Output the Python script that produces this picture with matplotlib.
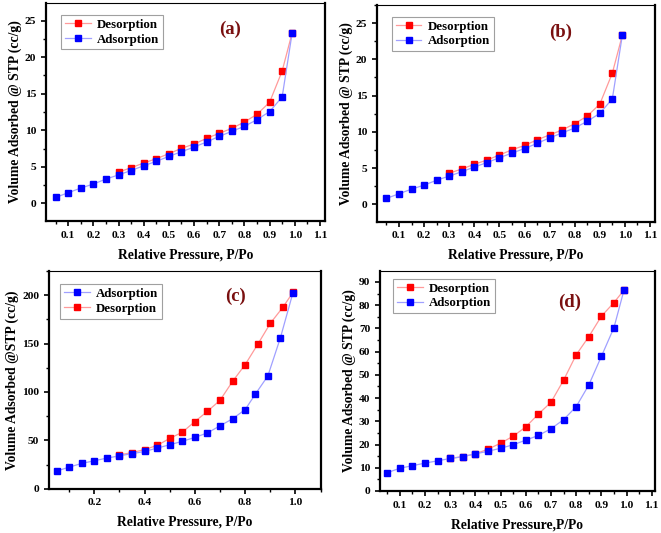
import numpy as np
import matplotlib
matplotlib.use("Agg")
import matplotlib.pyplot as plt
from matplotlib.ticker import MultipleLocator

plt.rcParams["font.family"] = ["Liberation Serif", "DejaVu Serif"]
plt.rcParams["font.weight"] = "bold"

# panels (a) and (b): same isotherm
p_ads_ab = [0.05, 0.10, 0.15, 0.20, 0.25, 0.30, 0.35, 0.40, 0.45, 0.50,
            0.55, 0.60, 0.65, 0.70, 0.75, 0.80, 0.85, 0.90, 0.95, 0.99]
v_ads_ab = [0.82, 1.46, 2.1, 2.65, 3.33, 3.9, 4.5, 5.15, 5.75, 6.43,
            7.07, 7.7, 8.4, 9.17, 9.85, 10.54, 11.45, 12.55, 14.55, 23.36]
p_des_ab = [0.30, 0.35, 0.40, 0.45, 0.50, 0.55, 0.60, 0.65, 0.70, 0.75,
            0.80, 0.85, 0.90, 0.95, 0.99]
v_des_ab = [4.29, 4.88, 5.52, 6.11, 6.8, 7.53, 8.12, 8.9, 9.58, 10.26,
            11.13, 12.18, 13.82, 18.1, 23.36]

# panel (c)
p_ads_c = [0.05, 0.10, 0.15, 0.20, 0.25, 0.30, 0.35, 0.40, 0.45, 0.50,
           0.55, 0.60, 0.65, 0.70, 0.75, 0.80, 0.84, 0.89, 0.94, 0.99]
v_ads_c = [18.2, 22.3, 26.1, 28.9, 31.6, 34.0, 36.2, 38.5, 42.0, 45.4,
           49.0, 53.0, 57.7, 65.0, 72.3, 81.8, 97.6, 116.5, 156.0, 202.7]
p_des_c = [0.30, 0.35, 0.40, 0.45, 0.50, 0.55, 0.60, 0.65, 0.70, 0.75,
           0.80, 0.85, 0.90, 0.95, 0.99]
v_des_c = [35.0, 37.3, 40.5, 44.7, 52.0, 58.4, 69.4, 80.0, 91.4, 111.0,
           128.3, 149.3, 171.0, 187.6, 203.0]

# panel (d)
p_ads_d = [0.05, 0.10, 0.15, 0.20, 0.25, 0.30, 0.35, 0.40, 0.45, 0.50,
           0.55, 0.60, 0.65, 0.70, 0.75, 0.80, 0.85, 0.90, 0.95, 0.99]
v_ads_d = [7.9, 9.8, 10.9, 12.0, 13.0, 14.0, 14.8, 16.0, 17.1, 18.4,
           19.9, 21.9, 23.9, 26.8, 30.7, 36.3, 45.6, 57.9, 70.3, 86.5]
p_des_d = [0.30, 0.35, 0.40, 0.45, 0.50, 0.55, 0.60, 0.65, 0.70, 0.75,
           0.80, 0.85, 0.90, 0.95, 0.99]
v_des_d = [14.0, 14.8, 16.0, 18.0, 20.6, 23.6, 27.6, 33.1, 38.2, 47.7,
           58.6, 66.4, 75.2, 81.1, 86.5]

RED, BLUE = "#ff0000", "#0000ff"
RED_L, BLUE_L = "#ff9a9a", "#a0a0ff"
LBL = "#7a1010"

fig = plt.figure(figsize=(6.61, 5.33), dpi=100)


def series(ax, p, v, c, cl, name):
    ax.plot(p, v, color=cl, lw=0.9, marker="s", ms=4.6, mfc=c, mec=c, label=name)


def style(ax, xlim, ylim, xmaj, xmin, ymaj, ymin, ylab, xlab, tag, tagpos, legpos, order):
    ax.set_xlim(*xlim)
    ax.set_ylim(*ylim)
    ax.xaxis.set_major_locator(MultipleLocator(xmaj))
    ax.xaxis.set_minor_locator(MultipleLocator(xmin))
    ax.yaxis.set_major_locator(MultipleLocator(ymaj))
    ax.yaxis.set_minor_locator(MultipleLocator(ymin))
    ax.tick_params(which="major", direction="out", length=3.5, width=1.2, labelsize=8.2)
    ax.tick_params(which="minor", direction="out", length=2, width=1.0)
    for lab in ax.get_xticklabels() + ax.get_yticklabels():
        lab.set_fontweight("bold")
    for s in ["left", "bottom", "right"]:
        ax.spines[s].set_linewidth(1.6)
    ax.spines["top"].set_linewidth(0.8)
    ax.set_xlabel(xlab, fontsize=9.8, fontweight="bold", labelpad=6)
    ax.set_ylabel(ylab, fontsize=9.8, fontweight="bold", labelpad=2)
    ax.text(tagpos[0], tagpos[1], tag, transform=ax.transAxes, fontsize=13.5,
            fontweight="bold", color=LBL, ha="center", va="center")
    h, l = ax.get_legend_handles_labels()
    h = [h[i] for i in order]
    l = [l[i] for i in order]
    leg = ax.legend(h, l, loc="upper left", bbox_to_anchor=legpos, fontsize=9.3,
                    frameon=True, fancybox=False, edgecolor="#888888",
                    handlelength=2.0, handletextpad=0.5, borderpad=0.3,
                    labelspacing=0.2, borderaxespad=0)
    leg.get_frame().set_linewidth(0.8)
    for t in leg.get_texts():
        t.set_fontweight("bold")


# (a)
ax = fig.add_axes([0.0696, 0.5854, 0.422, 0.409])
series(ax, p_des_ab, v_des_ab, RED, RED_L, "Desorption")
series(ax, p_ads_ab, v_ads_ab, BLUE, BLUE_L, "Adsorption")
style(ax, (0.012, 1.12), (-2.4, 27.4), 0.1, 0.05, 5, 2.5,
      "Volume Adsorbed @ STP (cc/g)", "Relative Pressure, P/Po",
      "(a)", (0.66, 0.88), (0.054, 0.945), [0, 1])
ax.set_xticks(np.arange(0.1, 1.15, 0.1))
ax.set_xticklabels([f"{t:.1f}" for t in np.arange(0.1, 1.15, 0.1)], fontweight="bold")

# (b)
ax = fig.add_axes([0.5699, 0.584, 0.421, 0.4066])
series(ax, p_des_ab, v_des_ab, RED, RED_L, "Desorption")
series(ax, p_ads_ab, v_ads_ab, BLUE, BLUE_L, "Adsorption")
style(ax, (0.011, 1.12), (-2.4, 27.5), 0.1, 0.05, 5, 2.5,
      "Volume Adsorbed @ STP (cc/g)", "Relative Pressure, P/Po",
      "(b)", (0.66, 0.875), (0.054, 0.945), [0, 1])
ax.set_xticks(np.arange(0.1, 1.15, 0.1))
ax.set_xticklabels([f"{t:.1f}" for t in np.arange(0.1, 1.15, 0.1)], fontweight="bold")

# (c)
ax = fig.add_axes([0.0741, 0.0831, 0.411, 0.4084])
series(ax, p_des_c, v_des_c, RED, RED_L, "Desorption")
series(ax, p_ads_c, v_ads_c, BLUE, BLUE_L, "Adsorption")
style(ax, (0.02, 1.10), (0, 225), 0.2, 0.1, 50, 25,
      "Volume Adsorbed @STP (cc/g)", "Relative Pressure, P/Po",
      "(c)", (0.685, 0.885), (0.04, 0.94), [1, 0])

# (d)
ax = fig.add_axes([0.5749, 0.0788, 0.416, 0.4128])
series(ax, p_des_d, v_des_d, RED, RED_L, "Desorption")
series(ax, p_ads_d, v_ads_d, BLUE, BLUE_L, "Adsorption")
style(ax, (0.021, 1.113), (0, 94.7), 0.1, 0.05, 10, 5,
      "Volume Adsorbed @ STP (cc/g)", "Relative Pressure,P/Po",
      "(d)", (0.69, 0.856), (0.047, 0.964), [0, 1])
ax.set_xticks(np.arange(0.1, 1.15, 0.1))
ax.set_xticklabels([f"{t:.1f}" for t in np.arange(0.1, 1.15, 0.1)], fontweight="bold")

fig.savefig("out.png", dpi=100)
